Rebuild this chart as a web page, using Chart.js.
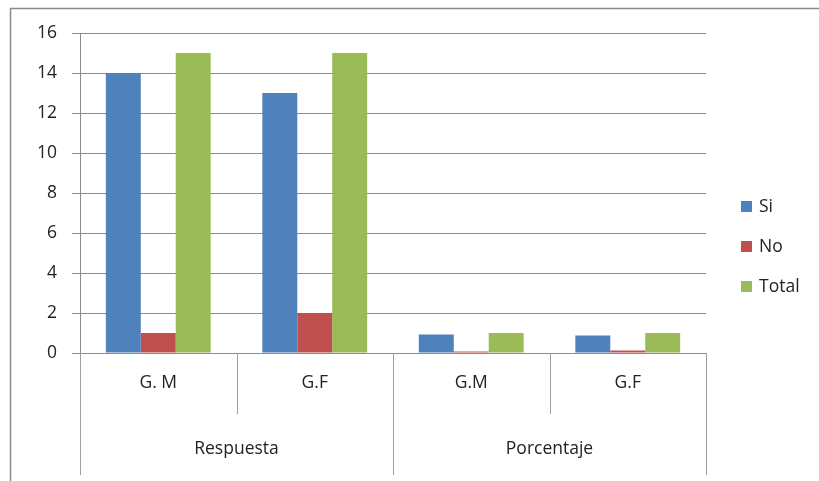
<!DOCTYPE html>
<html lang="es">
<head>
    <meta charset="UTF-8">
    <title>Respuesta y Porcentaje</title>
    <script src="https://cdn.jsdelivr.net/npm/chart.js"></script>
    <style>
        html, body { margin: 0; padding: 0; background: #fff; }
        #wrap { width: 819px; height: 481px; }
    </style>
</head>
<body>
    <div id="wrap"><canvas id="chart" width="819" height="481"></canvas></div>
    <script>
        // Data
        const categories = ['G. M', 'G.F', 'G.M', 'G.F'];
        const groups = ['Respuesta', 'Porcentaje'];
        const groupSize = 2;
        const seriesNames = ['Si', 'No', 'Total'];
        const siValues = [14, 13, 0.93, 0.87];
        const noValues = [1, 2, 0.07, 0.13];
        const totalValues = [15, 15, 1, 1];
        const yTicks = [0, 2, 4, 6, 8, 10, 12, 14, 16];

        const colors = ['#4F81BD', '#C0504D', '#9BBB59'];
        const fontFamily = '"Open Sans", Lato, sans-serif';
        const fontSize = 17.5;
        const textColor = '#222';
        const lineColor = '#8c8c8c';

        // Draws the frame, the two-level category axis and the legend
        const decorPlugin = {
            id: 'decor',
            afterDraw(chart) {
                const ctx = chart.ctx;
                const x = chart.scales.x;
                const area = chart.chartArea;
                const step = x.getPixelForValue(1) - x.getPixelForValue(0);
                const bottom = x.bottom;
                const tickBottom = area.bottom + (bottom - area.bottom) / 2;

                ctx.save();
                // outer frame (top and left edge visible)
                ctx.strokeStyle = lineColor;
                ctx.lineWidth = 1.5;
                ctx.beginPath();
                ctx.moveTo(10.5, 481);
                ctx.lineTo(10.5, 8.5);
                ctx.lineTo(819, 8.5);
                ctx.stroke();

                // category separators below the axis
                ctx.strokeStyle = '#a0a0a0';
                ctx.lineWidth = 1;
                for (let i = 0; i <= categories.length; i++) {
                    const px = Math.round(x.getPixelForValue(i) - step / 2) + 0.5;
                    const end = (i % groupSize === 0) ? bottom : tickBottom;
                    ctx.beginPath();
                    ctx.moveTo(px, area.bottom);
                    ctx.lineTo(px, end);
                    ctx.stroke();
                }

                // group labels
                ctx.fillStyle = textColor;
                ctx.font = fontSize + 'px ' + fontFamily;
                ctx.textAlign = 'center';
                ctx.textBaseline = 'middle';
                groups.forEach((g, gi) => {
                    const first = x.getPixelForValue(gi * groupSize) - step / 2;
                    const last = x.getPixelForValue(gi * groupSize + groupSize - 1) + step / 2;
                    ctx.fillText(g, (first + last) / 2, 449);
                });

                // legend
                ctx.textAlign = 'left';
                chart.data.datasets.forEach((ds, i) => {
                    const cy = 207 + i * 40;
                    ctx.fillStyle = ds.backgroundColor;
                    ctx.fillRect(741, cy - 6, 11, 11);
                    ctx.fillStyle = textColor;
                    ctx.fillText(ds.label, 759, cy);
                });
                ctx.restore();
            }
        };

        const seriesValues = [siValues, noValues, totalValues];

        new Chart(document.getElementById('chart'), {
            type: 'bar',
            data: {
                labels: categories,
                datasets: seriesNames.map((name, i) => ({
                    label: name,
                    data: seriesValues[i],
                    backgroundColor: colors[i],
                    borderWidth: 0,
                    categoryPercentage: 0.67,
                    barPercentage: 1
                }))
            },
            options: {
                responsive: false,
                animation: false,
                layout: { padding: { top: 33, right: 113, bottom: 6, left: 0 } },
                plugins: {
                    legend: { display: false },
                    tooltip: { enabled: false }
                },
                scales: {
                    x: {
                        grid: { display: false, drawTicks: false },
                        border: { display: false },
                        ticks: {
                            color: textColor,
                            font: { family: fontFamily, size: fontSize },
                            padding: 20,
                            maxRotation: 0
                        },
                        afterFit(scale) { scale.height = 122; }
                    },
                    y: {
                        min: 0,
                        max: 16,
                        afterBuildTicks(scale) {
                            scale.ticks = yTicks.map(v => ({ value: v }));
                        },
                        grid: { color: lineColor, tickLength: 8, lineWidth: 1 },
                        border: { display: true, color: lineColor },
                        ticks: {
                            color: textColor,
                            font: { family: fontFamily, size: fontSize },
                            padding: 15
                        },
                        afterFit(scale) { scale.width = 80; }
                    }
                }
            },
            plugins: [decorPlugin]
        });
    </script>
</body>
</html>
